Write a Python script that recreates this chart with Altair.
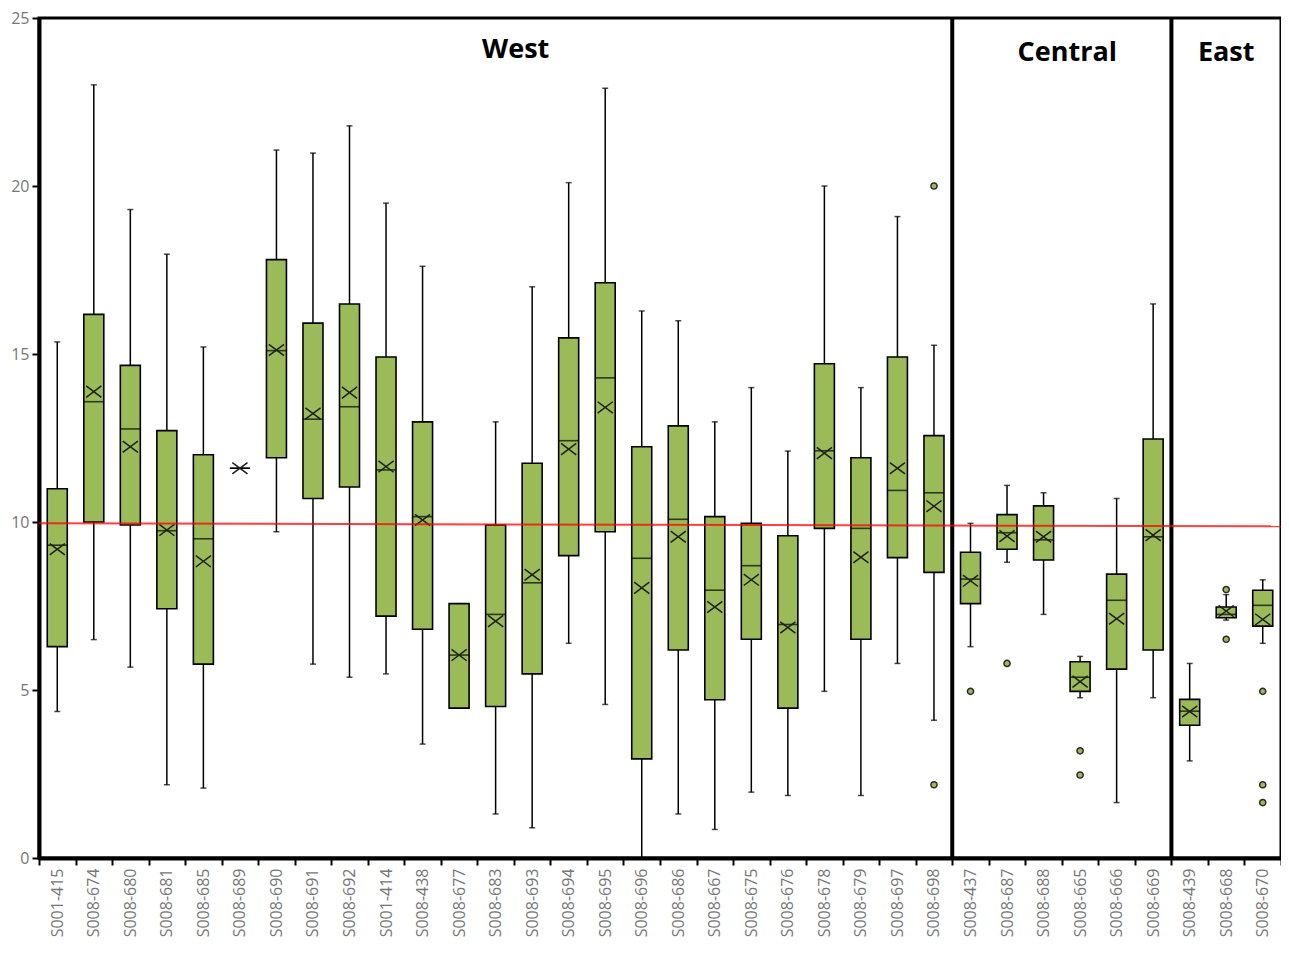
import altair as alt
import pandas as pd

# ---------------- data ----------------
cats = ["S001-415", "S008-674", "S008-680", "S008-681", "S008-685", "S008-689",
        "S008-690", "S008-691", "S008-692", "S001-414", "S008-438", "S008-677",
        "S008-683", "S008-693", "S008-694", "S008-695", "S008-696", "S008-686",
        "S008-667", "S008-675", "S008-676", "S008-678", "S008-679", "S008-697",
        "S008-698", "S008-437", "S008-687", "S008-688", "S008-665", "S008-666",
        "S008-669", "S008-439", "S008-668", "S008-670"]

whisk_lo = [4.36, 6.50, 5.68, 2.18, 2.08, 11.6, 9.71, 5.77, 5.38, 5.48, 3.39, 4.46,
            1.31, 0.90, 6.39, 4.57, 0.00, 1.31, 0.85, 1.96, 1.86, 4.96, 1.86, 5.79,
            4.10, 6.29, 8.80, 7.25, 4.77, 1.65, 4.77, 2.89, 7.08, 6.39]
q1 = [6.29, 10.00, 9.91, 7.42, 5.77, 11.6, 11.91, 10.70, 11.04, 7.20, 6.81, 4.46,
      4.51, 5.48, 9.00, 9.71, 2.95, 6.19, 4.71, 6.51, 4.46, 9.81, 6.51, 8.94,
      8.50, 7.57, 9.19, 8.87, 4.96, 5.62, 6.19, 3.95, 7.15, 6.90]
median = [9.31, 13.58, 12.77, 9.74, 9.50, 11.6, 15.10, 13.06, 13.43, 11.55, 10.16, 6.04,
          7.25, 8.19, 12.42, 14.29, 8.92, 10.08, 7.97, 8.70, 6.95, 12.12, 9.81, 10.94,
          10.87, 8.30, 9.68, 9.47, 5.38, 7.67, 9.56, 4.37, 7.25, 7.52]
q3 = [10.99, 16.18, 14.66, 12.72, 12.00, 11.6, 17.81, 15.92, 16.49, 14.91, 12.98, 7.57,
      9.91, 11.75, 15.48, 17.12, 12.24, 12.86, 10.16, 9.96, 9.59, 14.71, 11.91, 14.91,
      12.57, 9.10, 10.22, 10.48, 5.84, 8.45, 12.47, 4.72, 7.47, 7.97]
whisk_hi = [15.36, 23.01, 19.30, 17.97, 15.21, 11.6, 21.07, 20.98, 21.79, 19.49, 17.61, 7.57,
            12.98, 17.00, 20.10, 22.91, 16.28, 15.99, 12.98, 14.00, 12.11, 20.00, 14.00, 19.09,
            15.26, 9.96, 11.09, 10.87, 6.00, 10.70, 16.49, 5.79, 7.84, 8.28]
mean = [9.19, 13.88, 12.24, 9.76, 8.83, 11.6, 15.12, 13.23, 13.85, 11.65, 10.06, 6.04,
        7.05, 8.43, 12.17, 13.41, 8.04, 9.56, 7.47, 8.28, 6.86, 12.05, 8.95, 11.60,
        10.47, 8.25, 9.58, 9.56, 5.25, 7.12, 9.61, 4.36, 7.35, 7.10]

outlier_cat = ["S008-698", "S008-698", "S008-437", "S008-687", "S008-665", "S008-665",
               "S008-668", "S008-668", "S008-670", "S008-670", "S008-670"]
outlier_val = [20.0, 2.18, 4.96, 5.79, 3.19, 2.47, 7.99, 6.51, 4.96, 2.18, 1.65]

separator_cat = ["S008-437", "S008-439"]

label_text = ["West", "Central", "East"]
label_cat = ["S008-693", "S008-665", "S008-668"]
label_band = [0.05, 0.15, 0.5]
label_y = [24.05, 23.95, 23.95]

ref_start = [9.96]
ref_end = [9.87]

# ---------------- layout / style ----------------
W, H = 1242, 840
GREEN = "#9BBB59"
GRAY = "#767676"
FONT = "Open Sans"

df = pd.DataFrame({"cat": cats, "lo": whisk_lo, "q1": q1, "med": median,
                   "q3": q3, "hi": whisk_hi, "mean": mean})
df_out = pd.DataFrame({"cat": outlier_cat, "val": outlier_val})
df_sep = pd.DataFrame({"cat": separator_cat})
df_ref = pd.DataFrame({"a": ref_start, "b": ref_end})

xscale = alt.Scale(domain=cats, paddingInner=0, paddingOuter=0)
xaxis = alt.Axis(title=None, labelAngle=-90, labelFont=FONT, labelFontSize=16,
                 labelColor=GRAY, tickBand="extent", tickSize=7, tickColor="black",
                 tickWidth=2, domainColor="black", domainWidth=4, labelPadding=3)
yscale = alt.Scale(domain=[0, 25], nice=False)
yaxis = alt.Axis(title=None, values=[0, 5, 10, 15, 20, 25], labelFont=FONT,
                 labelFontSize=16, labelColor=GRAY, tickSize=7, tickColor="black",
                 tickWidth=2, domainColor="black", domainWidth=4, grid=False,
                 labelPadding=3)


def X(band=None):
    if band is None:
        return alt.X("cat:N", scale=xscale, axis=xaxis, sort=cats)
    return alt.X("cat:N", scale=xscale, axis=xaxis, sort=cats, bandPosition=band)


def Y(field):
    return alt.Y(field, type="quantitative", scale=yscale, axis=yaxis)


base = alt.Chart(df)

whiskers = base.mark_rule(color="black", strokeWidth=1.5).encode(
    x=X(), y=Y("lo"), y2="hi")
cap_lo = base.mark_tick(color="black", size=6, thickness=1.5).encode(x=X(), y=Y("lo"))
cap_hi = base.mark_tick(color="black", size=6, thickness=1.5).encode(x=X(), y=Y("hi"))
boxes = base.mark_bar(size=20, fill=GREEN, stroke="black", strokeWidth=1.6).encode(
    x=X(), y=Y("q1"), y2="q3")
medians = base.mark_tick(color="black", size=20, thickness=1.6).encode(x=X(), y=Y("med"))
means = base.mark_point(shape="M-1,-0.75L1,0.75M-1,0.75L1,-0.75", filled=False,
                        size=230, stroke="#1e1e1e", strokeWidth=1.5, opacity=1).encode(
    x=X(), y=Y("mean"))
outliers = alt.Chart(df_out).mark_circle(size=38, color=GREEN, stroke="#2a2a2a",
                                         strokeWidth=1.5, opacity=1).encode(
    x=X(), y=Y("val"))
separators = alt.Chart(df_sep).mark_rule(color="black", strokeWidth=4).encode(
    x=X(0))
ref_line = alt.Chart(df_ref).mark_rule(color="#ff0000", strokeWidth=2, opacity=0.75).encode(
    x=alt.value(0), x2=alt.value(W), y=Y("a"), y2="b")

label_layers = []
for t, c, b, yv in zip(label_text, label_cat, label_band, label_y):
    d = pd.DataFrame({"cat": [c], "txt": [t], "ly": [yv]})
    label_layers.append(
        alt.Chart(d).mark_text(font=FONT, fontSize=27, fontWeight="bold",
                               color="black", baseline="middle", align="center").encode(
            x=X(b), y=Y("ly"), text="txt:N"))

chart = alt.layer(whiskers, cap_lo, cap_hi, boxes, medians, means, outliers,
                  separators, ref_line, *label_layers).properties(
    width=W, height=H,
    padding={"left": 31, "top": 10, "right": 0, "bottom": 82},
    autosize=alt.AutoSizeParams(type="none"),
).configure_view(stroke="black", strokeWidth=3)

chart.save("out.html", embed_options={"renderer": "svg", "actions": False})
